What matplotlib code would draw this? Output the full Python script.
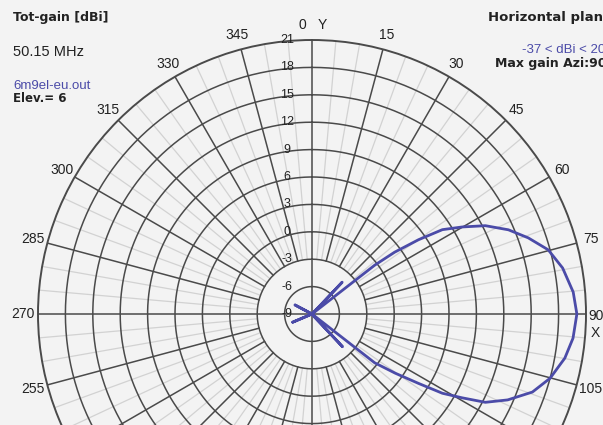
"""
Horizontal-plane gain pattern of a 6 m 9-element yagi (polar plot, 0 deg = Y up, clockwise).
"""

import numpy as np
import matplotlib
matplotlib.use("Agg")
import matplotlib.pyplot as plt

# pattern: azimuth (deg) -> total gain (dBi)
azimuth_deg = [0, 20, 36, 40, 43.5, 47, 50, 51.5, 52.1, 53.2, 55.1, 57.1, 59.9, 63.0,
               66.8, 70.6, 74.8, 79.6, 85.2, 90.0, 95.3, 99.9, 105.1, 109.5, 113.7,
               117.0, 119.2, 121.3, 123.1, 125.4, 127.9, 128.5, 130, 133, 137, 140.5,
               145, 180, 238, 247, 252, 270, 292, 298, 303, 340, 360]
gain_dbi = [-37, -25, -14, -9.5, -4.2, -8.5, -13, -12, -0.3, 2.3, 5.2, 8.0, 10.0, 12.3,
            14.4, 16.1, 17.8, 18.9, 19.7, 20.0, 19.7, 19.1, 18.0, 16.6, 14.4,
            12.3, 9.8, 7.7, 4.9, 2.2, -0.3, -12, -13, -9.5, -4.1, -8.5,
            -14, -30, -14, -6.7, -13, -30, -13, -6.9, -14, -30, -37]

ring_values = [21, 18, 15, 12, 9, 6, 3, 0, -3, -6, -9]
ring_labels = ["21", "18", "15", "12", "9", "6", "3", "0", "-3", "-6", "-9"]
spoke_angles = list(range(0, 360, 15))
spoke_labels = [str(a) for a in spoke_angles]

r_min, r_max = -9, 21
r_text = 22.6

W, H = 603, 425
cx, cy, R = 312, 314, 274   # centre and outer radius in pixels

grid_col = "#4a4a4a"
minor_col = "#d2d2d2"
curve_col = "#4b4ba8"
text_col = "#222222"
bg = "#f3f3f3"

fig = plt.figure(figsize=(W / 100, H / 100), dpi=100, facecolor=bg)
ax = fig.add_axes([(cx - R) / W, (H - cy - R) / H, 2 * R / W, 2 * R / H],
                  projection="polar", facecolor=bg)
ax.set_theta_zero_location("N")
ax.set_theta_direction(-1)
ax.set_ylim(r_min, r_max)
ax.grid(False)
ax.set_xticks([])
ax.set_yticks([])
ax.spines["polar"].set_color(grid_col)
ax.spines["polar"].set_linewidth(1.4)

# minor spokes every 5 deg
for a in range(0, 360, 5):
    if a % 15:
        ax.plot([np.radians(a)] * 2, [-3, r_max], color=minor_col, lw=0.9, zorder=1)

# rings
th = np.linspace(0, 2 * np.pi, 361)
for g in ring_values[1:-1]:
    ax.plot(th, np.full_like(th, g), color=grid_col, lw=1.1, zorder=2)

# major spokes, the X/Y axes run to the centre
for a in spoke_angles:
    start = r_min if a % 90 == 0 else -3
    ax.plot([np.radians(a)] * 2, [start, r_max], color=grid_col, lw=1.1, zorder=2)

# pattern, clipped at the centre value
g_plot = np.clip(gain_dbi, r_min, None)
ax.plot(np.radians(azimuth_deg), g_plot, color=curve_col, lw=2.0, zorder=5,
        solid_joinstyle="round")

# ring labels along the 0 deg spoke
for g, lab in zip(ring_values, ring_labels):
    ax.annotate(lab, xy=(0, g), xytext=(-25, 0), textcoords="offset pixels",
                ha="center", va="center", fontsize=9, color=text_col,
                family="Liberation Sans", zorder=6)

# azimuth labels (only the ones that land inside the picture)
px_per_db = R / (r_max - r_min)
offsets = {0: (-10, 0), 90: (-5, -2)}
for a, lab in zip(spoke_angles, spoke_labels):
    y_px = cy - (r_text - r_min) * px_per_db * np.cos(np.radians(a))
    if y_px > H - 20:
        continue
    dx, dy = offsets.get(a, (0, 0))
    ax.annotate(lab, xy=(np.radians(a), r_text), xytext=(dx, dy),
                textcoords="offset pixels", ha="center", va="center",
                fontsize=10, color=text_col, family="Liberation Sans",
                annotation_clip=False)
ax.annotate("Y", xy=(0, r_text), xytext=(10, 0), textcoords="offset pixels",
            ha="center", va="center", fontsize=10, color=text_col,
            family="Liberation Sans", annotation_clip=False)
ax.annotate("X", xy=(np.radians(90), r_text), xytext=(-5, -19), textcoords="offset pixels",
            ha="center", va="center", fontsize=10, color=text_col,
            family="Liberation Sans", annotation_clip=False)


def put(x, y, s, **kw):
    fig.text(x / W, 1 - y / H, s, va="center", ha="left", **kw)


put(13, 18, "Tot-gain [dBi]", fontsize=9, fontweight="bold", color=text_col)
put(13, 52, "50.15 MHz", fontsize=10.5, color=text_col, family="Liberation Sans")
put(13, 86, "6m9el-eu.out", fontsize=9.5, color=curve_col, family="Liberation Sans")
put(13, 98, "Elev.= 6", fontsize=8.5, fontweight="bold", color=text_col)

put(488, 18, "Horizontal plane", fontsize=9.5, fontweight="bold", color=text_col)
put(522, 50, "-37 < dBi < 20", fontsize=9.5, color=curve_col, family="Liberation Sans")
put(495, 64, "Max gain Azi:90", fontsize=9, fontweight="bold", color=text_col)

fig.savefig("out.png", dpi=100, facecolor=bg)
